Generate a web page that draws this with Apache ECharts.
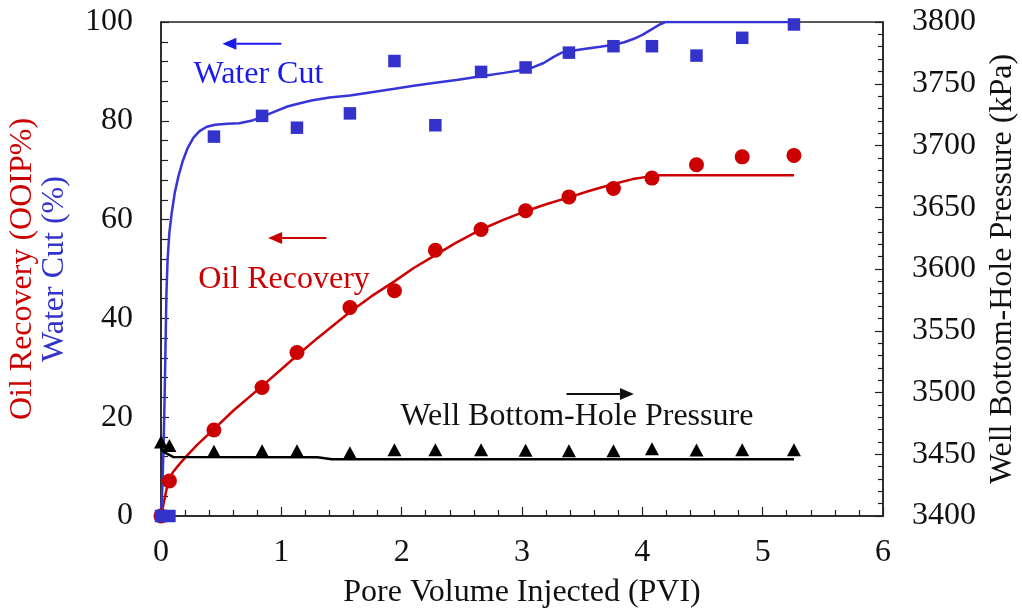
<!DOCTYPE html>
<html>
<head>
<meta charset="utf-8">
<script src="https://cdn.jsdelivr.net/npm/echarts@6/dist/echarts.min.js"></script>
<style>
  html, body { margin: 0; padding: 0; background: #fff; }
  #chart { width: 1022px; height: 612px; }
</style>
</head>
<body>
<div id="chart"></div>
<script>
// Measured points (pore volumes injected)
const pvi = [0, 0.07, 0.44, 0.84, 1.13, 1.57, 1.94, 2.28, 2.66, 3.03, 3.39, 3.76, 4.08, 4.45, 4.83, 5.26];
const waterCut = [0, 0, 76.8, 81.0, 78.6, 81.5, 92.1, 79.1, 89.9, 90.8, 93.8, 95.1, 95.1, 93.2, 96.8, 99.5];
const oilRecovery = [0, 7.1, 17.4, 26.0, 33.1, 42.2, 45.6, 53.8, 58.0, 61.8, 64.6, 66.3, 68.4, 71.1, 72.7, 73.0];
const bhp = [3460, 3457, 3452.5, 3452.8, 3452.8, 3451.2, 3453.7, 3453.7, 3453.7, 3453.2, 3452.8, 3452.8, 3454.4, 3453.4, 3453.7, 3453.7];

// Simulated (history-matched) curves
const wcFitX = [0, 0.012, 0.022, 0.03, 0.038, 0.045, 0.055, 0.07, 0.09, 0.115, 0.145, 0.18, 0.22, 0.27, 0.32, 0.38, 0.45, 0.55, 0.65, 0.75, 0.84, 0.95, 1.05, 1.13, 1.25, 1.4, 1.57, 1.75, 1.94, 2.1, 2.28, 2.47, 2.66, 2.85, 3.03, 3.1, 3.18, 3.26, 3.33, 3.39, 3.5, 3.65, 3.76, 3.85, 3.93, 4.0, 4.07, 4.13, 4.19, 5.26];
const wcFitY = [0, 6, 15, 24, 35, 45, 52, 57.5, 61.5, 65.5, 68.8, 71.8, 74.4, 76.6, 77.9, 78.8, 79.2, 79.4, 79.5, 80.0, 80.8, 81.9, 82.9, 83.4, 84.1, 84.7, 85.1, 85.8, 86.5, 87.1, 87.7, 88.3, 89.0, 89.7, 90.4, 90.9, 91.7, 92.9, 93.8, 94.1, 94.5, 95.0, 95.4, 95.9, 96.6, 97.4, 98.4, 99.3, 100, 100];
const orFitX = [0, 0.03, 0.06, 0.1, 0.15, 0.2, 0.3, 0.44, 0.6, 0.84, 1.0, 1.13, 1.3, 1.57, 1.75, 1.94, 2.1, 2.28, 2.45, 2.66, 2.85, 3.03, 3.2, 3.39, 3.57, 3.76, 3.92, 4.08, 4.15, 5.26];
const orFitY = [0, 3.5, 7.1, 8.9, 10.4, 11.8, 14.4, 17.6, 21.3, 26.3, 29.7, 32.5, 36.0, 41.3, 44.5, 47.5, 50.2, 52.8, 55.3, 58.0, 60.0, 61.7, 63.1, 64.5, 65.9, 67.2, 68.2, 68.8, 69.0, 69.0];
const bhpFitX = [0, 0.02, 0.1, 1.3, 1.42, 5.26];
const bhpFitY = [3455, 3452, 3447.8, 3447.5, 3446, 3446];

const xTicks = [0, 1, 2, 3, 4, 5, 6];
const leftTicks = [0, 20, 40, 60, 80, 100];
const rightTicks = [3400, 3450, 3500, 3550, 3600, 3650, 3700, 3750, 3800];

const RED = '#cc0000';
const BLUE = '#3333cc';
const FONT = '"Liberation Serif", "Times New Roman", serif';
const FS = 32;

const zip = (xs, ys) => xs.map((x, i) => [x, ys[i]]);

const chart = echarts.init(document.getElementById('chart'));

const axisCommon = {
  axisLine: { show: true, lineStyle: { color: '#222', width: 1.5 } },
  splitLine: { show: false },
  axisLabel: { color: '#111', fontFamily: FONT, fontSize: FS, formatter: (v) => String(v) },
  nameTextStyle: { fontFamily: FONT, fontSize: FS, color: '#111' }
};

chart.setOption({
  animation: false,
  backgroundColor: '#fff',
  grid: {
    left: 161, right: 139, top: 22, bottom: 96,
    containLabel: false, outerBoundsMode: 'none',
    show: true, borderColor: '#222', borderWidth: 1.5
  },
  xAxis: Object.assign({}, axisCommon, {
    type: 'value', min: xTicks[0], max: xTicks[xTicks.length - 1], interval: 1,
    name: 'Pore Volume Injected (PVI)', nameLocation: 'middle', nameGap: 61,
    axisTick: { show: true, inside: true, length: 9, lineStyle: { color: '#222', width: 1.2 } },
    minorTick: { show: true, splitNumber: 5, length: 6, lineStyle: { color: '#222', width: 1.2 } },
    axisLabel: Object.assign({}, axisCommon.axisLabel, { margin: 21 })
  }),
  yAxis: [
    Object.assign({}, axisCommon, {
      type: 'value', min: leftTicks[0], max: leftTicks[leftTicks.length - 1], interval: 20, position: 'left',
      name: '{r|Oil Recovery (OOIP%)}\n{b|Water Cut (%)}', nameLocation: 'middle', nameRotate: 90, nameGap: 90,
      nameTextStyle: {
        fontFamily: FONT, fontSize: FS, lineHeight: 32,
        rich: {
          r: { color: RED, fontFamily: FONT, fontSize: FS, lineHeight: 32 },
          b: { color: BLUE, fontFamily: FONT, fontSize: FS, lineHeight: 32 }
        }
      },
      axisTick: { show: true, inside: true, length: 8, lineStyle: { color: '#222', width: 1.2 } },
      minorTick: { show: true, splitNumber: 5, length: 7, lineStyle: { color: '#222', width: 1.2 } },
      axisLabel: Object.assign({}, axisCommon.axisLabel, { margin: 28 })
    }),
    Object.assign({}, axisCommon, {
      type: 'value', min: rightTicks[0], max: rightTicks[rightTicks.length - 1], interval: 50, position: 'right',
      name: 'Well Bottom-Hole Pressure (kPa)', nameLocation: 'middle', nameRotate: 90, nameGap: 104,
      axisTick: { show: true, inside: true, length: 8, lineStyle: { color: '#222', width: 1.2 } },
      minorTick: { show: true, splitNumber: 5, length: 5, lineStyle: { color: '#222', width: 1.2 } },
      axisLabel: Object.assign({}, axisCommon.axisLabel, { margin: 29 })
    })
  ],
  series: [
    {
      name: 'Oil Recovery (sim)', type: 'line', yAxisIndex: 0, data: zip(orFitX, orFitY),
      showSymbol: false, smooth: false,
      lineStyle: { color: RED, width: 2.5 }, z: 2
    },
    {
      name: 'Water Cut (sim)', type: 'line', yAxisIndex: 0, data: zip(wcFitX, wcFitY),
      showSymbol: false, smooth: false,
      lineStyle: { color: '#3535d8', width: 2.5 }, z: 2
    },
    {
      name: 'BHP (sim)', type: 'line', yAxisIndex: 1, data: zip(bhpFitX, bhpFitY),
      showSymbol: false, smooth: false,
      lineStyle: { color: '#000', width: 2.5 }, z: 2
    },
    {
      name: 'Oil Recovery', type: 'scatter', yAxisIndex: 0, data: zip(pvi, oilRecovery),
      symbol: 'circle', symbolSize: 15, itemStyle: { color: RED, opacity: 1 }, z: 3
    },
    {
      name: 'Water Cut', type: 'scatter', yAxisIndex: 0, data: zip(pvi, waterCut),
      symbol: 'rect', symbolSize: 12.5, itemStyle: { color: BLUE, opacity: 1 }, z: 4
    },
    {
      name: 'Well Bottom-Hole Pressure', type: 'scatter', yAxisIndex: 1, data: zip(pvi, bhp),
      symbol: 'triangle', symbolSize: [14, 13], itemStyle: { color: '#000', opacity: 1 }, z: 3
    }
  ]
});

// Annotation labels and direction arrows, anchored in left-axis data coordinates
const notes = [
  { text: 'Water Cut', color: '#1a1aee', at: [0.27, 89.3], from: [1.0, 95.6], to: [0.51, 95.6] },
  { text: 'Oil Recovery', color: RED, at: [0.31, 47.8], from: [1.375, 56.3], to: [0.89, 56.3] },
  { text: 'Well Bottom-Hole Pressure', color: '#111', at: [1.99, 20.2], from: [3.37, 24.7], to: [3.93, 24.7] }
];

const px = (p) => chart.convertToPixel({ xAxisIndex: 0, yAxisIndex: 0 }, p);
const graphics = [];
notes.forEach((n) => {
  const a = px(n.at), f = px(n.from), t = px(n.to);
  graphics.push({
    type: 'text', x: a[0], y: a[1], silent: true,
    style: { text: n.text, fill: n.color, font: FS + 'px ' + FONT, textAlign: 'left', textVerticalAlign: 'middle' }
  });
  const dir = Math.sign(t[0] - f[0]);
  const headLen = 14, headHalf = 6;
  graphics.push({
    type: 'line', silent: true,
    shape: { x1: f[0], y1: f[1], x2: t[0] - dir * headLen, y2: t[1] },
    style: { stroke: n.color, lineWidth: 2 }
  });
  graphics.push({
    type: 'polygon', silent: true,
    shape: { points: [[t[0], t[1]], [t[0] - dir * headLen, t[1] - headHalf], [t[0] - dir * headLen, t[1] + headHalf]] },
    style: { fill: n.color }
  });
});
chart.setOption({ graphic: graphics });
</script>
</body>
</html>
